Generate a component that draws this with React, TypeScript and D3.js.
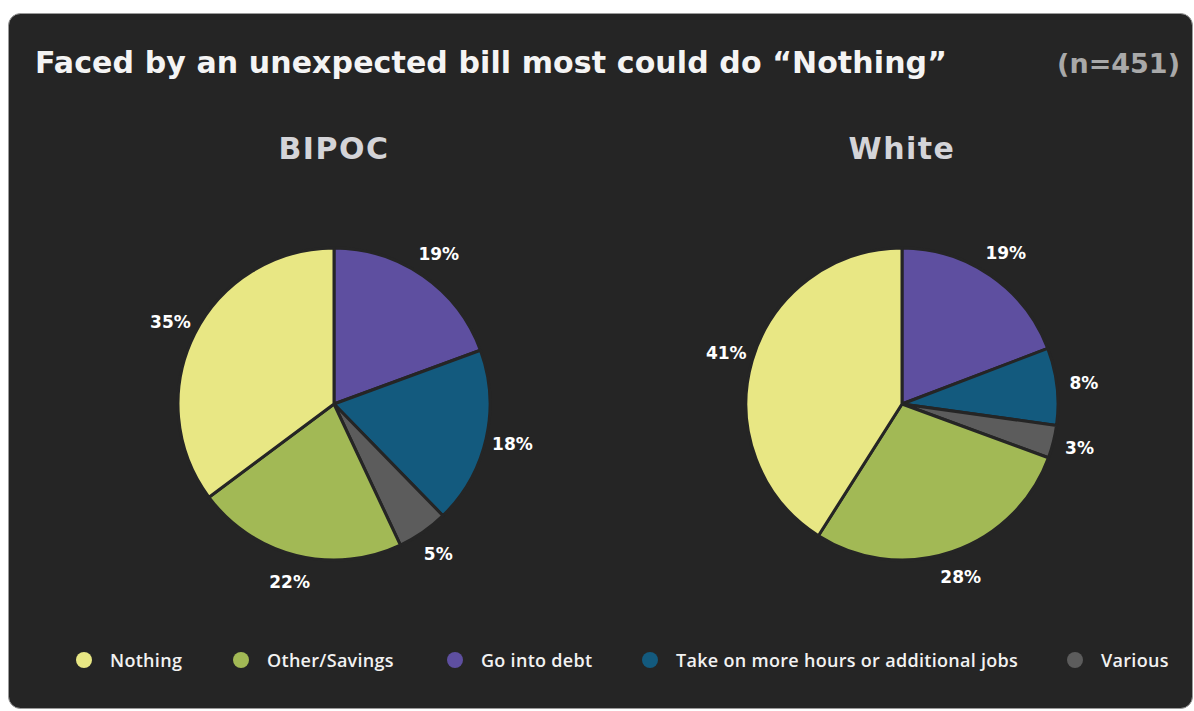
import React from "react";
import * as d3 from "d3";

const categories = ["Go into debt", "Take on more hours or additional jobs", "Various", "Other/Savings", "Nothing"];
const bipocValues = [19.4, 18.3, 5.3, 21.8, 35.2];
const whiteValues = [19.2, 8.0, 3.4, 28.4, 41.0];
const groups = ["BIPOC", "White"];
const legendOrder = ["Nothing", "Other/Savings", "Go into debt", "Take on more hours or additional jobs", "Various"];
const colors: Record<string, string> = {
  "Nothing": "#e8e784",
  "Other/Savings": "#a2b955",
  "Go into debt": "#5e4fa0",
  "Take on more hours or additional jobs": "#135a7e",
  "Various": "#5c5c5c",
};
const title = "Faced by an unexpected bill most could do \u201cNothing\u201d";
const sampleLabel = "(n=451)";

const W = 1194;
const H = 711;
const BG = "#252525";
const FONT = "'Open Sans', sans-serif";
const WIDE = "'DejaVu Sans', sans-serif";

type D = { c: string; v: number };

function Pie({ values, cx, cy, r, name }: { values: number[]; cx: number; cy: number; r: number; name: string }) {
  const data: D[] = categories.map((c, i) => ({ c, v: values[i] }));
  const pie = d3.pie<D>().sort(null).value((d) => d.v);
  const arcs = pie(data);
  const arc = d3.arc<d3.PieArcDatum<D>>().innerRadius(0).outerRadius(r);
  const labelArc = d3.arc<d3.PieArcDatum<D>>().innerRadius(r + 27).outerRadius(r + 27);
  return (
    <g transform={`translate(${cx},${cy})`}>
      <text x={0} y={-256} textAnchor="middle" dominantBaseline="central" fill="#d4d4d8" fontFamily={WIDE} fontWeight={700} fontSize={30} letterSpacing={1.5}>
        {name}
      </text>
      {arcs.map((a) => (
        <path key={a.data.c} d={arc(a) || ""} fill={colors[a.data.c]} stroke={BG} strokeWidth={3} strokeLinejoin="round" />
      ))}
      {arcs.map((a) => {
        const [x, y] = labelArc.centroid(a);
        return (
          <text key={a.data.c + "l"} x={x} y={y} textAnchor="middle" dominantBaseline="central" fill="#ffffff" fontFamily={WIDE} fontWeight={700} fontSize={17}>
            {Math.round(a.data.v)}%
          </text>
        );
      })}
    </g>
  );
}

export default function App() {
  const legendX = [84, 241, 455, 650, 1075];
  return (
    <svg width={W} height={H} style={{ position: "absolute", left: 0, top: 0, display: "block" }}>
      <rect x={0} y={0} width={W} height={H} fill="#ffffff" />
      <rect x={8.5} y={13.5} width={1184} height={695} rx={12} ry={12} fill={BG} stroke="#9a9a9a" strokeWidth={1} />
      <text x={35} y={73} fill="#f4f4f4" fontFamily={WIDE} fontWeight={700} fontSize={30} letterSpacing={0.1}>
        {title}
      </text>
      <text x={1180} y={73} textAnchor="end" fill="#a9a9a9" fontFamily={WIDE} fontWeight={700} fontSize={27}>
        {sampleLabel}
      </text>
      <Pie values={bipocValues} cx={334} cy={404} r={156} name={groups[0]} />
      <Pie values={whiteValues} cx={902} cy={404} r={156} name={groups[1]} />
      {legendOrder.map((c, i) => (
        <g key={c} transform={`translate(${legendX[i]},660)`}>
          <circle cx={0} cy={0} r={8} fill={colors[c]} />
          <text x={26} y={0} dominantBaseline="central" fill="#f2f2f2" fontFamily={FONT} fontWeight={600} fontSize={18} letterSpacing={0.3}>
            {c}
          </text>
        </g>
      ))}
    </svg>
  );
}
